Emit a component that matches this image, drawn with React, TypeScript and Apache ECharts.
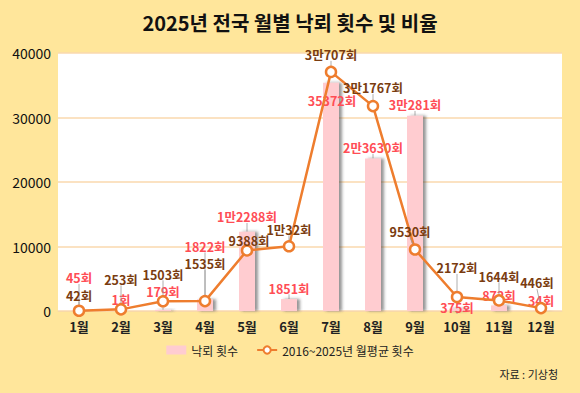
import React, { useEffect, useRef } from "react";
import * as echarts from "echarts";

const months = ["1월", "2월", "3월", "4월", "5월", "6월", "7월", "8월", "9월", "10월", "11월", "12월"];
const strikes2025 = [45, 1, 179, 1822, 12288, 1851, 35372, 23630, 30281, 375, 872, 34];
const strikeLabels = ["45회", "1회", "179회", "1822회", "1만2288회", "1851회", "35372회", "2만3630회", "3만281회", "375회", "872회", "34회"];
const avgStrikes = [42, 253, 1503, 1535, 9388, 10032, 37070, 31767, 9530, 2172, 1644, 446];
const avgLabels = ["42회", "253회", "1503회", "1535회", "9388회", "1만32회", "3만707회", "3만1767회", "9530회", "2172회", "1644회", "446회"];
const yTicks = { min: 0, max: 40000, interval: 10000 };

// label layout nudges (pixels), per month index
const barLabelShift: [number, number][] = [[0, -22], [0, 0], [0, -7], [0, -42], [0, -4], [0, 0], [1, 29], [0, 0], [0, 0], [0, 10], [0, 1], [0, 1]];
const lineLabelShift: [number, number][] = [[0, 2], [0, -13], [0, -10], [0, -20], [2, 7], [0, 0], [0, 0], [0, -1], [-5, -1], [0, -12], [0, -7], [-4, -8]];

const FONT = "'Noto Sans CJK KR', 'Noto Sans', sans-serif";

export default function App() {
  const ref = useRef<HTMLDivElement>(null);
  useEffect(() => {
    if (!ref.current) return;
    const chart = echarts.init(ref.current, undefined, { renderer: "svg" });
    chart.setOption({
      animation: false,
      backgroundColor: "#FFE69B",
      textStyle: { fontFamily: FONT },
      title: {
        text: "2025년 전국 월별 낙뢰 횟수 및 비율",
        left: "center",
        top: 7,
        textStyle: { fontSize: 20, fontWeight: "bold", color: "#111", fontFamily: FONT },
      },
      grid: {
        left: 58,
        right: 18,
        top: 53,
        bottom: 82,
        show: true,
        backgroundColor: "#FFFFFF",
        borderWidth: 0,
      },
      legend: {
        bottom: 32,
        left: "center",
        itemGap: 18,
        itemWidth: 20,
        itemHeight: 9,
        textStyle: { fontSize: 12, color: "#222", fontFamily: FONT },
        data: [
          { name: "낙뢰 횟수", icon: "rect" },
          { name: "2016~2025년 월평균 횟수" },
        ],
      },
      xAxis: {
        type: "category",
        data: months,
        axisTick: { show: false },
        axisLine: { show: true, lineStyle: { color: "#F8D9A8", width: 1 } },
        axisLabel: { fontSize: 13, fontWeight: "bold", color: "#222", margin: 9, fontFamily: FONT },
      },
      yAxis: {
        type: "value",
        min: yTicks.min,
        max: yTicks.max,
        interval: yTicks.interval,
        axisLabel: { fontSize: 14, color: "#111", margin: 7, fontFamily: FONT, formatter: (v: number) => String(v) },
        splitLine: { lineStyle: { color: "#FAD9AE", width: 1.5 } },
        axisLine: { show: false },
        axisTick: { show: false },
      },
      series: [
        {
          name: "낙뢰 횟수",
          type: "bar",
          data: strikes2025,
          barWidth: 16,
          itemStyle: {
            color: "#FFCCD0",
            shadowColor: "rgba(60,60,60,0.55)",
            shadowBlur: 3,
            shadowOffsetX: 3,
            shadowOffsetY: 0,
          },
          label: {
            show: true,
            position: "top",
            distance: 5,
            fontSize: 12.5,
            lineHeight: 12,
            fontWeight: "bold",
            color: "#FF4D55",
            fontFamily: FONT,
            formatter: (p: any) => strikeLabels[p.dataIndex],
          },
          labelLine: { show: true, lineStyle: { color: "#999", width: 0.8 } },
          labelLayout: (p: any) => ({ dx: barLabelShift[p.dataIndex][0], dy: barLabelShift[p.dataIndex][1] }),
          z: 2,
        },
        {
          name: "2016~2025년 월평균 횟수",
          type: "line",
          data: avgStrikes,
          symbol: "circle",
          symbolSize: 10,
          lineStyle: { color: "#EE7D2E", width: 2.5 },
          itemStyle: { color: "#FFFFFF", borderColor: "#EE7D2E", borderWidth: 2.5 },
          label: {
            show: true,
            position: "top",
            distance: 5,
            fontSize: 12.5,
            lineHeight: 12,
            fontWeight: "bold",
            color: "#7A3C10",
            fontFamily: FONT,
            formatter: (p: any) => avgLabels[p.dataIndex],
          },
          labelLine: { show: true, lineStyle: { color: "#999", width: 0.8 } },
          labelLayout: (p: any) => ({ dx: lineLabelShift[p.dataIndex][0], dy: lineLabelShift[p.dataIndex][1] }),
          z: 3,
        },
      ],
      graphic: [
        {
          type: "text",
          right: 22,
          top: 368,
          style: { text: "자료 : 기상청", fontSize: 11, fill: "#222", fontFamily: FONT },
        },
      ],
    });
    return () => chart.dispose();
  }, []);
  return <div ref={ref} style={{ width: 580, height: 393, position: "absolute", left: 0, top: 0 }} />;
}
